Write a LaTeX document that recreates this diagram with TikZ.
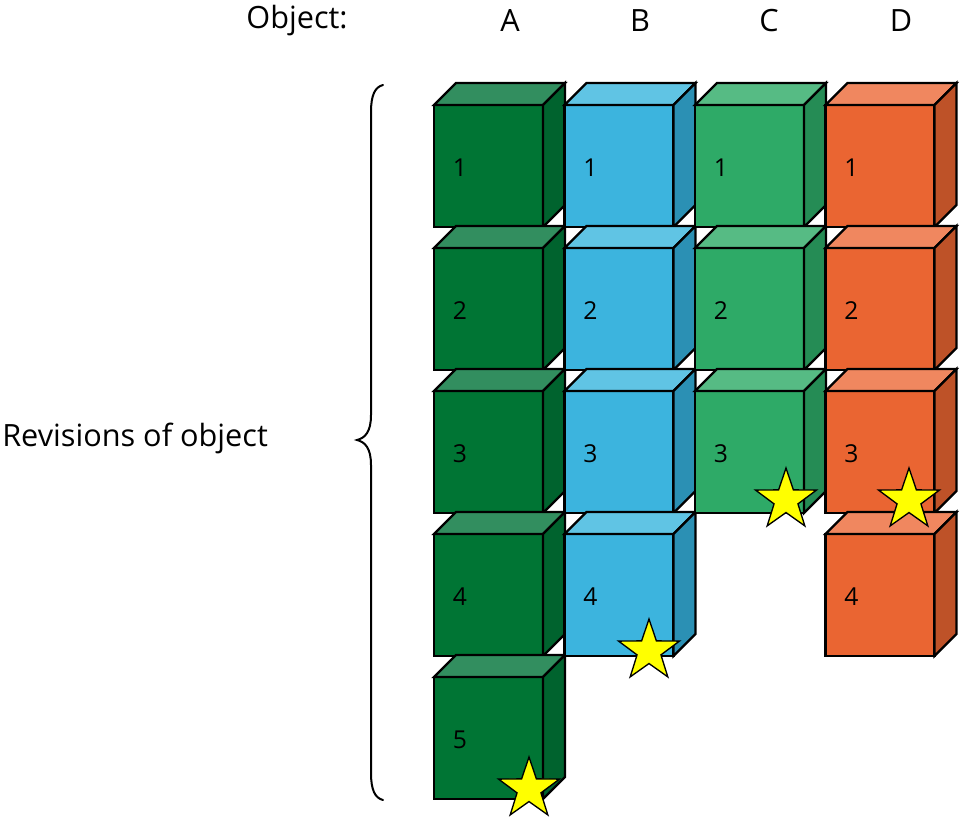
\documentclass[tikz,border=0pt]{standalone}
\usepackage{fontspec}
\setmainfont{Open Sans}
\usetikzlibrary{shapes.geometric}
\definecolor{Afront}{RGB}{0,117,52}
\definecolor{Atop}{RGB}{50,142,95}
\definecolor{Aside}{RGB}{0,99,46}
\definecolor{Bfront}{RGB}{60,180,222}
\definecolor{Btop}{RGB}{96,196,228}
\definecolor{Bside}{RGB}{43,144,180}
\definecolor{Cfront}{RGB}{46,170,103}
\definecolor{Ctop}{RGB}{86,187,132}
\definecolor{Cside}{RGB}{37,140,85}
\definecolor{Dfront}{RGB}{234,101,50}
\definecolor{Dtop}{RGB}{240,135,95}
\definecolor{Dside}{RGB}{190,82,40}
\definecolor{staryellow}{RGB}{255,255,0}
\tikzset{
  edge/.style={draw=black, line width=1.7pt, line join=miter},
  numlbl/.style={font=\fontsize{18.5}{22}\selectfont, inner sep=0pt},
  headlbl/.style={font=\fontsize{23}{27}\selectfont, inner sep=0pt},
  revstar/.style={star, star points=5, star point ratio=2.55, minimum size=48pt, inner sep=0pt, fill=staryellow, draw=black, line width=1pt},
}
\newcommand\mycube[4]{%
  \fill[#3front, edge] (#1,#2) rectangle ++(109,122);
  \fill[#3top, edge] (#1,#2) -- ++(22,-22) -- ++(109,0) -- ++(-22,22) -- cycle;
  \fill[#3side, edge] (#1+109,#2) -- ++(22,-22) -- ++(0,122) -- ++(-22,22) -- cycle;
  \node[numlbl] (n#3#4) at (#1+26,#2+63) {#4};
}
\begin{document}
\begin{tikzpicture}[x=0.75pt, y=-0.75pt]
\useasboundingbox (0,0) rectangle (961,818);
% headers
\node[headlbl] (hobj) at (297,21) {Object:};
\node[headlbl] (hA) at (510,21) {A};
\node[headlbl] (hB) at (640,21) {B};
\node[headlbl] (hC) at (769,21) {C};
\node[headlbl] (hD) at (901,21) {D};
\node[headlbl, anchor=west] (hrev) at (2,438) {Revisions of object};
% brace
\draw[line width=1.5pt, line cap=round] (383,85) .. controls (375,87) and (371,95) .. (371,112) -- (371,415)
  .. controls (371,432) and (365,438) .. (357,440)
  .. controls (365,442) and (371,448) .. (371,465) -- (371,773)
  .. controls (371,790) and (375,798) .. (383,800);
% cubes
\foreach \c/\n/\col in {0/5/A,1/4/B,2/3/C,3/4/D}{
  \foreach \r in {1,...,\n}{
    \pgfmathsetmacro\xx{434+130.5*\c}
    \pgfmathsetmacro\yy{105+143*(\r-1)}
    \mycube{\xx}{\yy}{\col}{\r}
  }
}
% stars
\node[revstar] (sA) at (529,789) {};
\node[revstar] (sB) at (649,651) {};
\node[revstar] (sC) at (786,500) {};
\node[revstar] (sD) at (909,500) {};
\end{tikzpicture}
\end{document}
